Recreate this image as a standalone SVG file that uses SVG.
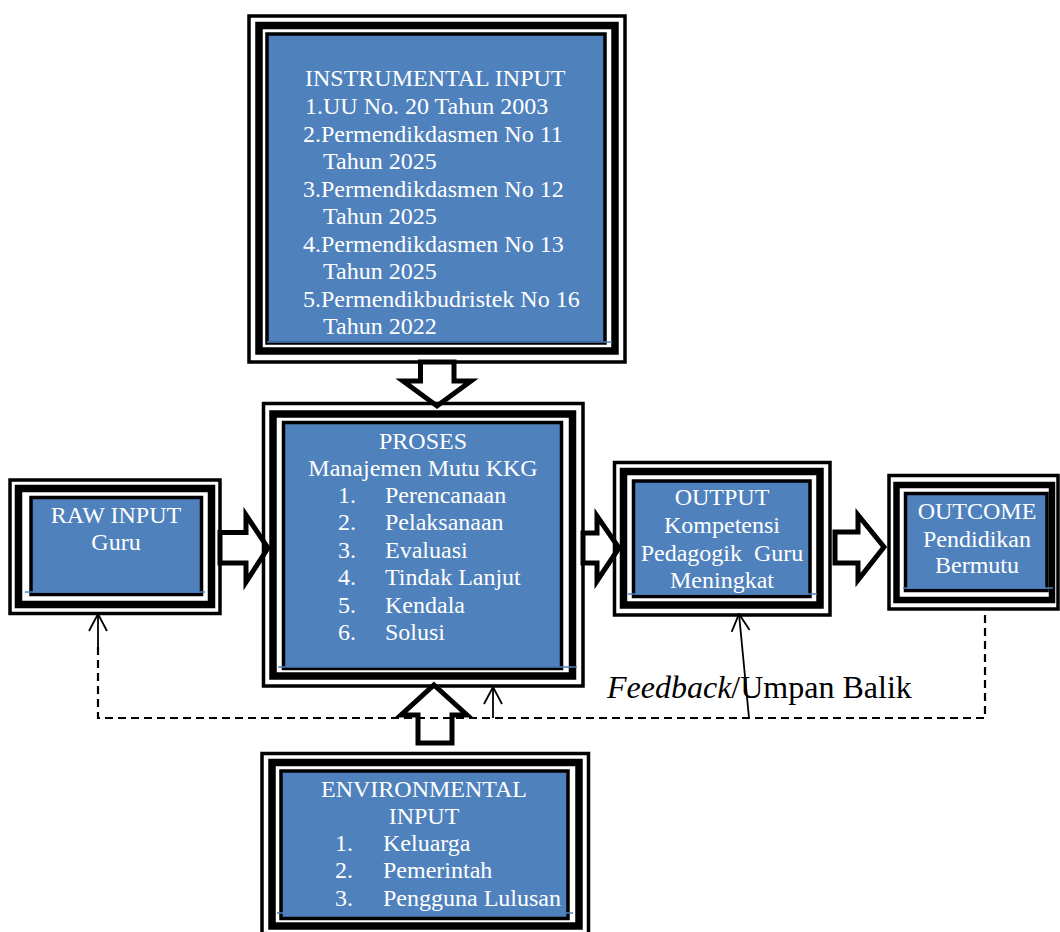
<svg xmlns="http://www.w3.org/2000/svg" width="1060" height="932" viewBox="0 0 1060 932">
<defs>
<style>
.o{fill:none;stroke:#000;stroke-width:3.5}
.k{fill:none;stroke:#000;stroke-width:7.5}
.i{fill:#4F81BD;stroke:#000;stroke-width:3.5}
.bl{stroke:#4F81BD;stroke-width:1.5}
.t{font-family:"Liberation Serif","Times New Roman",serif;font-size:24px;fill:#fff}
.c{text-anchor:middle}
.ba{fill:#fff;stroke:#000;stroke-width:5;stroke-linejoin:miter}
.d{fill:none;stroke:#000;stroke-width:2.2;stroke-dasharray:8 5}
.s{fill:none;stroke:#000;stroke-width:1.8}
.f{font-family:"Liberation Serif","Times New Roman",serif;font-size:32px;fill:#000}
</style>
<marker id="ah" viewBox="0 0 20 20" refX="19" refY="10" markerWidth="20" markerHeight="20" markerUnits="userSpaceOnUse" orient="auto">
<path d="M2,1 L19,10 L2,19" fill="none" stroke="#000" stroke-width="1.8"/>
</marker>
</defs>
<rect width="1060" height="932" fill="#fff"/>

<g id="connectors">
<polygon class="ba" points="220,532.5 246,532.5 246,515 268,548 246,582 246,563 220,563"/>
<polygon class="ba" points="583,533 597,533 597,516 619,548 597,581 597,563 583,563"/>
<polygon class="ba" points="835,532 858,532 858,515 884,547 858,580 858,563 835,563"/>
<polygon class="ba" points="420.5,362 454,362 454,381 471,381 437,406 403,381 420.5,381"/>
<polygon class="ba" points="434,685 467,715 452,715 452,743 418,743 418,715 401,715"/>
<path class="d" d="M98,647 L98,718 L985,718 L985,609"/>
<path class="s" d="M98,647 L98,614" marker-end="url(#ah)"/>
<path class="s" d="M749,718 L739,614" marker-end="url(#ah)"/>
<path class="s" d="M493,718 L493,687" marker-end="url(#ah)"/>
<text class="f" x="607" y="698"><tspan font-style="italic">Feedback</tspan>/Umpan Balik</text>
</g>

<g id="instrumental-input">
<rect class="o" x="249" y="16" width="376" height="346"/>
<rect class="k" x="259" y="25.5" width="356" height="325.5"/>
<rect class="i" x="267" y="34" width="338" height="309"/>
<line class="bl" x1="267" y1="342" x2="612" y2="342"/>
<text class="t" x="305" y="86">INSTRUMENTAL INPUT</text>
<text class="t" x="305" y="114">1.UU No. 20 Tahun 2003</text>
<text class="t" x="303" y="142">2.Permendikdasmen No 11</text>
<text class="t" x="323" y="169">Tahun 2025</text>
<text class="t" x="303" y="197">3.Permendikdasmen No 12</text>
<text class="t" x="323" y="224">Tahun 2025</text>
<text class="t" x="303" y="252">4.Permendikdasmen No 13</text>
<text class="t" x="323" y="279">Tahun 2025</text>
<text class="t" x="303" y="307">5.Permendikbudristek No 16</text>
<text class="t" x="323" y="334">Tahun 2022</text>
</g>

<g id="proses">
<rect class="o" x="263.5" y="403.5" width="319.5" height="282.5"/>
<rect class="k" x="273" y="414" width="299.5" height="262"/>
<rect class="i" x="283.5" y="422.5" width="278" height="246"/>
<line class="bl" x1="278" y1="667" x2="577" y2="667"/>
<text class="t c" x="423" y="449">PROSES</text>
<text class="t c" x="423" y="476">Manajemen Mutu KKG</text>
<text class="t" x="338" y="503">1.</text><text class="t" x="385" y="503">Perencanaan</text>
<text class="t" x="338" y="530">2.</text><text class="t" x="385" y="530">Pelaksanaan</text>
<text class="t" x="338" y="558">3.</text><text class="t" x="385" y="558">Evaluasi</text>
<text class="t" x="338" y="585">4.</text><text class="t" x="385" y="585">Tindak Lanjut</text>
<text class="t" x="338" y="613">5.</text><text class="t" x="385" y="613">Kendala</text>
<text class="t" x="338" y="640">6.</text><text class="t" x="385" y="640">Solusi</text>
</g>

<g id="raw-input">
<rect class="o" x="10" y="480" width="210" height="133.5"/>
<rect class="k" x="18.5" y="488.5" width="193" height="116"/>
<rect class="i" x="31" y="497.5" width="170.5" height="97"/>
<line class="bl" x1="25" y1="592" x2="205" y2="592"/>
<text class="t c" x="116" y="523">RAW INPUT</text>
<text class="t c" x="116" y="550">Guru</text>
</g>

<g id="output">
<rect class="o" x="614.5" y="462.5" width="215.5" height="152.5"/>
<rect class="k" x="623.5" y="471.5" width="196.5" height="133.5"/>
<rect class="i" x="633.5" y="481" width="176.5" height="115.5"/>
<line class="bl" x1="628" y1="594" x2="817" y2="594"/>
<text class="t c" x="722" y="505">OUTPUT</text>
<text class="t c" x="722" y="533">Kompetensi</text>
<text class="t c" x="722" y="561" xml:space="preserve">Pedagogik  Guru</text>
<text class="t c" x="722" y="588">Meningkat</text>
</g>

<g id="outcome">
<rect class="o" x="889" y="475.5" width="169" height="133.5"/>
<rect class="k" x="896.5" y="485" width="155.5" height="115" style="stroke-width:6.5"/>
<rect class="i" x="905.5" y="493.5" width="141.5" height="97"/>
<line class="bl" x1="903" y1="588" x2="1053" y2="588"/>
<text class="t c" x="977" y="519">OUTCOME</text>
<text class="t c" x="977" y="547">Pendidikan</text>
<text class="t c" x="977" y="573">Bermutu</text>
</g>

<g id="environmental-input">
<rect class="o" x="262" y="753.5" width="326.5" height="186"/>
<rect class="k" x="272" y="762.5" width="307" height="163.5"/>
<rect class="i" x="281" y="771" width="287" height="147.5"/>
<line class="bl" x1="277" y1="913" x2="573" y2="913"/>
<text class="t c" x="424" y="797">ENVIRONMENTAL</text>
<text class="t c" x="424" y="824">INPUT</text>
<text class="t" x="335" y="851">1.</text><text class="t" x="383" y="851">Keluarga</text>
<text class="t" x="335" y="878">2.</text><text class="t" x="383" y="878">Pemerintah</text>
<text class="t" x="335" y="906">3.</text><text class="t" x="383" y="906">Pengguna Lulusan</text>
</g>
</svg>
